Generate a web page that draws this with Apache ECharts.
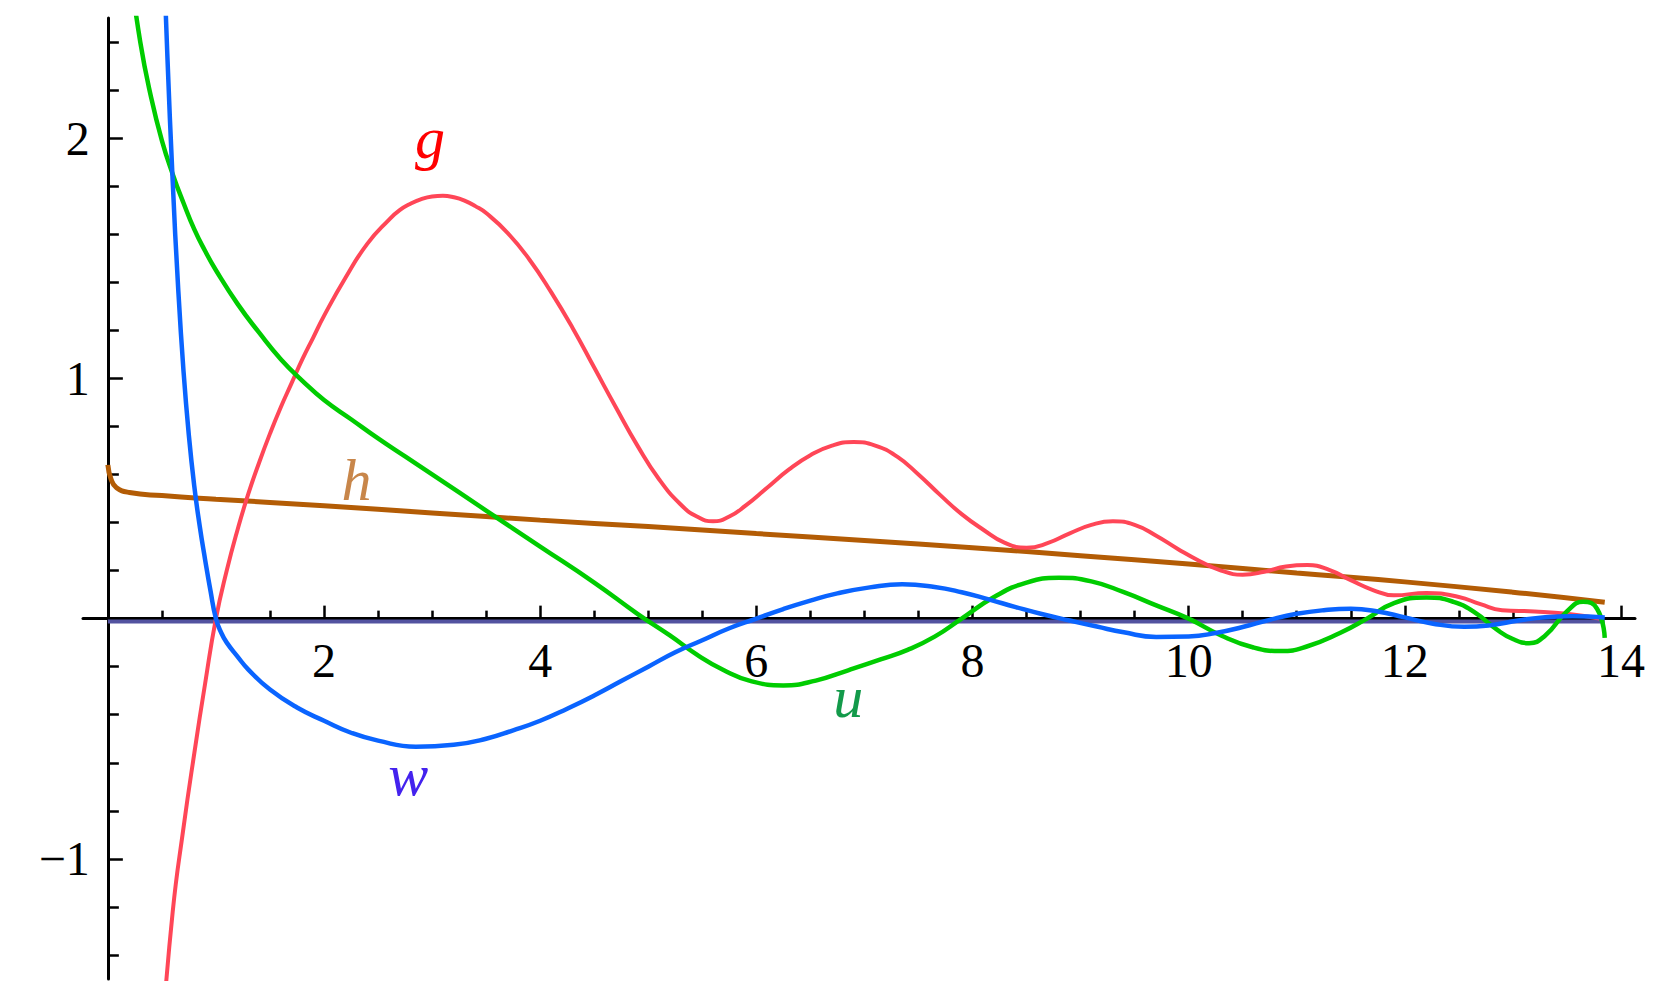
<!DOCTYPE html>
<html>
<head>
<meta charset="utf-8">
<title>g, h, u, w</title>
<script src="https://cdn.jsdelivr.net/npm/echarts@6/dist/echarts.min.js"></script>
<style>
    html, body { margin: 0; padding: 0; background: #fff; }
    #chart { width: 1678px; height: 1006px; }
</style>
</head>
<body>
<div id="chart"></div>
<script>
// values, [x, y]
var gData = [
    [0.5, -1.75], [0.6, -1.22], [0.7, -0.87], [0.8, -0.56], [0.9, -0.27], [1.0, 0.0],
    [1.1, 0.2], [1.2, 0.37], [1.3, 0.52], [1.4, 0.65], [1.5, 0.77], [1.6, 0.88],
    [1.7, 0.98], [1.8, 1.08], [1.9, 1.17], [2.0, 1.26], [2.2, 1.42], [2.4, 1.56],
    [2.6, 1.66], [2.7, 1.7], [2.8, 1.727], [2.9, 1.746], [3.0, 1.757], [3.1, 1.76],
    [3.2, 1.754], [3.3, 1.74], [3.4, 1.717], [3.5, 1.688], [3.7, 1.605], [3.9, 1.495],
    [4.1, 1.36], [4.3, 1.21], [4.5, 1.045], [4.7, 0.88], [4.9, 0.72], [5.1, 0.58],
    [5.3, 0.475], [5.45, 0.425], [5.6, 0.405], [5.75, 0.425], [5.9, 0.47], [6.1, 0.545],
    [6.3, 0.62], [6.5, 0.68], [6.7, 0.72], [6.9, 0.735], [7.1, 0.72], [7.3, 0.675],
    [7.5, 0.6], [7.7, 0.515], [7.9, 0.435], [8.1, 0.37], [8.3, 0.315], [8.5, 0.295],
    [8.7, 0.315], [8.9, 0.355], [9.1, 0.39], [9.3, 0.405], [9.5, 0.39], [9.7, 0.345],
    [9.9, 0.29], [10.1, 0.24], [10.3, 0.2], [10.5, 0.183], [10.7, 0.195], [10.9, 0.217],
    [11.1, 0.223], [11.3, 0.203], [11.5, 0.16], [11.7, 0.12], [11.9, 0.097], [12.2, 0.107],
    [12.5, 0.09], [12.7, 0.06], [12.9, 0.035], [13.2, 0.03], [13.5, 0.02], [13.8, 0.0]
];

var hData = [
    [0.0, 0.64], [0.03, 0.58], [0.08, 0.545], [0.2, 0.525], [0.5, 0.512], [1, 0.497],
    [2, 0.47], [3, 0.44], [4, 0.41], [5, 0.383], [6, 0.354], [7, 0.325], [8, 0.295],
    [9, 0.262], [10, 0.227], [11, 0.19], [12, 0.153], [13, 0.11], [13.85, 0.068]
];

var uData = [
    [0.2, 2.72], [0.3, 2.4], [0.4, 2.17], [0.5, 1.99], [0.6, 1.85], [0.7, 1.73],
    [0.8, 1.62], [0.9, 1.53], [1.0, 1.45], [1.2, 1.31], [1.4, 1.19], [1.6, 1.08],
    [1.8, 0.99], [2.0, 0.91], [2.25, 0.83], [2.5, 0.75], [2.75, 0.675], [3.0, 0.6],
    [3.5, 0.45], [4.0, 0.3], [4.5, 0.15], [4.9, 0.02], [5.2, -0.07], [5.45, -0.15],
    [5.7, -0.215], [5.95, -0.26], [6.25, -0.278], [6.55, -0.258], [6.85, -0.215], [7.15, -0.17],
    [7.4, -0.13], [7.65, -0.075], [7.9, 0.0], [8.2, 0.09], [8.5, 0.15], [8.8, 0.17],
    [9.1, 0.155], [9.4, 0.11], [9.7, 0.055], [10.0, 0.0], [10.3, -0.07], [10.6, -0.12],
    [10.85, -0.135], [11.1, -0.115], [11.4, -0.06], [11.65, 0.0], [11.9, 0.065], [12.2, 0.088],
    [12.45, 0.07], [12.65, 0.025], [12.85, -0.045], [13.0, -0.085], [13.15, -0.102], [13.3, -0.07],
    [13.5, 0.03], [13.65, 0.07], [13.78, 0.04], [13.85, -0.08]
];

var wData = [
    [0.5, 2.95], [0.55, 2.35], [0.6, 1.82], [0.65, 1.38], [0.7, 1.03], [0.75, 0.76],
    [0.8, 0.55], [0.85, 0.385], [0.9, 0.245], [0.95, 0.115], [1.0, 0.0], [1.05, -0.06],
    [1.1, -0.1], [1.2, -0.158], [1.3, -0.212], [1.5, -0.295], [1.75, -0.37], [2.0, -0.425],
    [2.25, -0.475], [2.5, -0.508], [2.85, -0.533], [3.2, -0.525], [3.5, -0.5], [3.75, -0.465],
    [4.0, -0.425], [4.25, -0.375], [4.5, -0.32], [4.75, -0.26], [5.0, -0.2], [5.25, -0.14],
    [5.5, -0.09], [5.75, -0.04], [6.0, 0.0], [6.25, 0.04], [6.5, 0.075], [6.75, 0.105],
    [7.05, 0.13], [7.35, 0.143], [7.65, 0.132], [7.9, 0.11], [8.15, 0.08], [8.4, 0.048],
    [8.65, 0.018], [8.9, -0.008], [9.15, -0.033], [9.4, -0.057], [9.7, -0.076], [10.0, -0.074],
    [10.25, -0.06], [10.5, -0.035], [10.75, -0.005], [11.0, 0.02], [11.25, 0.035], [11.5, 0.041],
    [11.75, 0.03], [12.0, 0.005], [12.25, -0.02], [12.55, -0.034], [12.8, -0.027], [13.05, -0.008],
    [13.3, 0.006], [13.55, 0.01], [13.85, 0.005]
];

var zeroData = [[0, -0.012], [13.85, -0.012]];

var xMajorTicks = [2, 4, 6, 8, 10, 12, 14];
var xMinorTicks = [0.5, 1, 1.5, 2.5, 3, 3.5, 4.5, 5, 5.5, 6.5, 7, 7.5, 8.5, 9, 9.5,
    10.5, 11, 11.5, 12.5, 13, 13.5];
var yMajorTicks = [-1, 1, 2];
var yMinorTicks = [-1.4, -1.2, -0.8, -0.6, -0.4, -0.2, 0.2, 0.4, 0.6, 0.8,
    1.2, 1.4, 1.6, 1.8, 2.2, 2.4];

var X_MIN = -0.23, X_MAX = 14.13, Y_MIN = -1.5, Y_MAX = 2.5;
var GRID = { left: 83, right: 43, top: 18, bottom: 27 };
var W = 1678, H = 1006;

// the axes cross at (0, 0), so shift them in from the grid edges
var xOffset = -(0 - Y_MIN) / (Y_MAX - Y_MIN) * (H - GRID.top - GRID.bottom);
var yOffset = -(0 - X_MIN) / (X_MAX - X_MIN) * (W - GRID.left - GRID.right);

var serif = 'Liberation Serif';

function curveLabel(text, at, color) {
    return {
        symbol: 'circle',
        symbolSize: 0,
        silent: true,
        label: {
            show: true,
            position: 'inside',
            formatter: text,
            color: color,
            fontFamily: serif,
            fontStyle: 'italic',
            fontSize: 60
        },
        data: [{ coord: at, value: text }]
    };
}

function lineSeries(name, data, color, width, label) {
    var s = {
        name: name,
        type: 'line',
        data: data,
        showSymbol: false,
        smooth: 0.5,
        animation: false,
        lineStyle: { color: color, width: width }
    };
    if (label) s.markPoint = label;
    return s;
}

var chart = echarts.init(document.getElementById('chart'), null, { renderer: 'svg' });

var axisLineStyle = { color: '#000', width: 3 };
var tickStyle = { color: '#000', width: 2.5 };

var option = {
    backgroundColor: '#fff',
    animation: false,
    grid: { left: GRID.left, right: GRID.right, top: GRID.top, bottom: GRID.bottom, outerBoundsMode: 'none' },
    xAxis: [{
        type: 'value',
        min: X_MIN,
        max: X_MAX,
        position: 'bottom',
        offset: xOffset,
        axisLine: { onZero: false, lineStyle: axisLineStyle },
        axisTick: { show: true, inside: true, length: 13, customValues: xMajorTicks, lineStyle: tickStyle },
        axisLabel: { customValues: xMajorTicks, margin: 18, color: '#000', fontFamily: serif, fontSize: 48 },
        splitLine: { show: false }
    }, {
        type: 'value',
        min: X_MIN,
        max: X_MAX,
        position: 'bottom',
        offset: xOffset,
        axisLine: { show: false, onZero: false },
        axisTick: { show: true, inside: true, length: 8, customValues: xMinorTicks, lineStyle: tickStyle },
        axisLabel: { show: false },
        splitLine: { show: false }
    }],
    yAxis: [{
        type: 'value',
        min: Y_MIN,
        max: Y_MAX,
        position: 'left',
        offset: yOffset,
        axisLine: { onZero: false, lineStyle: axisLineStyle },
        axisTick: { show: true, inside: true, length: 15, customValues: yMajorTicks, lineStyle: tickStyle },
        axisLabel: {
            customValues: yMajorTicks,
            margin: 18,
            color: '#000',
            fontFamily: serif,
            fontSize: 48,
            formatter: function(v) { return v < 0 ? '\u2212' + Math.abs(v) : String(v); }
        },
        splitLine: { show: false }
    }, {
        type: 'value',
        min: Y_MIN,
        max: Y_MAX,
        position: 'left',
        offset: yOffset,
        axisLine: { show: false, onZero: false },
        axisTick: { show: true, inside: true, length: 11, customValues: yMinorTicks, lineStyle: tickStyle },
        axisLabel: { show: false },
        splitLine: { show: false }
    }],
    series: [
        lineSeries('zero', zeroData, '#5353a0', 4),
        lineSeries('h', hData, '#b35c05', 5, curveLabel('h', [2.3, 0.575], '#c8864a')),
        lineSeries('g', gData, '#ff4657', 4, curveLabel('g', [2.98, 2.0], '#ff0000')),
        lineSeries('u', uData, '#00cc00', 4.5, curveLabel('u', [6.85, -0.325], '#139a4a')),
        lineSeries('w', wData, '#0a64ff', 4.5, curveLabel('w', [2.78, -0.65], '#4422ee'))
    ]
};

chart.setOption(option);
</script>
</body>
</html>
